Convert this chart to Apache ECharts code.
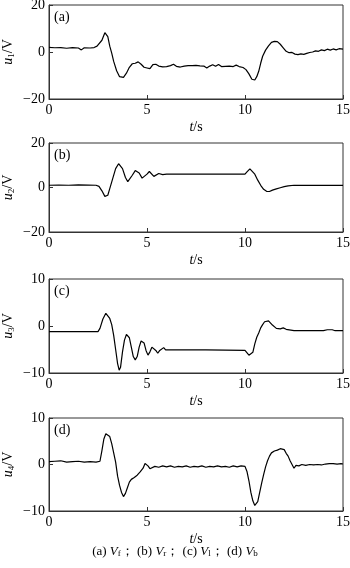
<!DOCTYPE html>
<html><head><meta charset="utf-8">
<script src="https://cdn.jsdelivr.net/npm/echarts@6/dist/echarts.min.js"></script>
<style>html,body{margin:0;padding:0;background:#fff}#c{width:350px;height:568px}</style>
</head><body><div id="c"></div>
<script>
// ---- data ----
var xTicks = [0, 5, 10, 15];
var panelLabels = ['(a)', '(b)', '(c)', '(d)'];
var ySubs = ['1', '2', '3', '4'];
var yRanges = [[-20, 20, 20], [-20, 20, 20], [-10, 10, 10], [-10, 10, 10]];

var tA = [0,0.3,0.6,0.9,1.2,1.5,1.65,1.8,2.1,2.3,2.45,2.55,2.7,2.85,2.92,3.0,3.1,3.2,3.3,3.45,3.6,3.7,3.8,3.95,4.1,4.25,4.4,4.55,4.7,4.85,5.0,5.15,5.3,5.45,5.6,5.8,6.0,6.2,6.35,6.5,6.7,6.9,7.1,7.3,7.5,7.7,7.9,8.05,8.2,8.35,8.5,8.65,8.8,9.0,9.2,9.4,9.55,9.7,9.9,10.05,10.2,10.35,10.5,10.6,10.7,10.8,10.9,11.05,11.2,11.35,11.5,11.65,11.8,11.95,12.1,12.25,12.4,12.55,12.7,12.85,13.0,13.15,13.3,13.45,13.6,13.75,13.9,14.05,14.2,14.35,14.5,14.65,14.8,14.9,15];
var vA = [2.0,1.8,1.9,1.6,1.9,1.7,0.9,1.8,1.7,1.9,2.5,1.8,5,8.2,8.8,6.5,2.5,-0.5,-4,-8,-10.5,-11,-10.8,-9,-6.5,-5,-4.8,-4.2,-5.2,-6.5,-6.8,-7.1,-5.4,-5.2,-6,-6.3,-6.2,-5.8,-5.2,-6.1,-6.4,-6.0,-5.8,-5.8,-5.7,-5.9,-6.0,-6.8,-6.0,-5.4,-6.1,-5.3,-6.2,-6.1,-6.0,-6.2,-5.6,-6.2,-6.6,-7.5,-9.3,-11.6,-11.9,-10.5,-8.2,-4.8,-1.8,0.8,2.6,4.1,4.5,4.4,3.3,1.8,0.3,-0.3,-0.2,-0.9,-1.1,-0.8,-1.0,-0.6,-0.2,0.0,0.5,0.3,0.9,0.6,1.2,0.8,1.3,0.9,1.4,1.7,1.2];

var tB = [0,0.5,1.0,1.5,2.0,2.4,2.55,2.7,2.85,2.92,3.0,3.1,3.25,3.4,3.55,3.62,3.75,3.9,4.02,4.12,4.25,4.4,4.5,4.6,4.75,4.85,5.0,5.12,5.22,5.35,5.45,5.6,5.7,5.8,5.9,6.0,7.0,8.0,9.0,10.0,10.1,10.25,10.35,10.5,10.65,10.8,10.95,11.1,11.25,11.4,11.6,11.8,12.0,12.2,12.5,13.0,13.5,14.0,15];
var vB = [1.0,1.1,1.0,1.2,1.1,1.0,0.5,-1.5,-4.0,-4.6,-3.5,-0.5,4,8.5,10.7,10.9,8.5,4.5,2.6,3.2,5.5,7.6,7.8,6.5,4.2,4.5,6,7.2,6.4,5.0,5.2,6.3,6.0,5.8,6.1,6.0,6.0,6.0,6.0,6.0,7.0,8.4,8.2,6,3.3,1.0,-0.8,-1.7,-1.8,-1.2,-0.6,-0.1,0.4,0.7,1.0,1.0,1.0,1.0,1.0];

var tC = [0,2.5,2.6,2.75,2.9,3.0,3.1,3.2,3.3,3.4,3.5,3.58,3.65,3.75,3.85,3.95,4.02,4.1,4.2,4.3,4.4,4.5,4.6,4.7,4.78,4.85,4.95,5.05,5.15,5.25,5.35,5.45,5.55,5.65,5.75,5.85,5.95,6.2,8.0,10.0,10.1,10.2,10.3,10.4,10.5,10.6,10.7,10.8,10.9,11.0,11.1,11.2,11.3,11.4,11.5,11.6,11.7,11.8,11.95,12.1,12.2,12.5,14.0,14.2,14.3,14.45,14.6,15];
var vC = [-1.2,-1.2,-0.5,1.5,2.7,2.5,1.6,0.3,-2,-5,-8,-9.4,-8.8,-5.5,-3,-1.8,-1.6,-2.5,-4.5,-6.5,-7.2,-6.5,-4.5,-3.2,-3.0,-3.6,-5.2,-6.2,-5.5,-4.5,-4.3,-5.2,-5.8,-5.2,-4.8,-4.6,-5.1,-5.1,-5.1,-5.2,-5.5,-6.2,-6.4,-5.6,-3.8,-2.4,-1.5,-0.4,0.3,0.9,1.2,1.1,0.8,0.2,-0.2,-0.5,-0.3,-0.6,-0.4,-0.7,-1.0,-1.0,-1.0,-0.8,-1.0,-0.8,-1.0,-1.0];

var tD = [0,0.3,0.6,0.9,1.2,1.5,1.8,2.1,2.4,2.6,2.7,2.8,2.9,3.0,3.1,3.2,3.3,3.4,3.5,3.6,3.7,3.8,3.9,4.0,4.1,4.2,4.35,4.5,4.65,4.8,4.9,4.95,5.05,5.15,5.25,5.4,5.6,5.8,6.0,6.2,6.4,6.6,6.8,7.0,7.2,7.4,7.6,7.8,8.0,8.2,8.4,8.6,8.8,9.0,9.2,9.4,9.6,9.8,10.0,10.1,10.2,10.3,10.4,10.5,10.55,10.65,10.75,10.85,10.95,11.05,11.15,11.25,11.35,11.5,11.65,11.8,11.9,12.0,12.1,12.2,12.3,12.4,12.5,12.6,12.75,12.9,13.1,13.3,13.5,13.7,13.9,14.1,14.3,14.5,14.7,14.9,15];
var vD = [0.6,0.7,0.8,0.5,0.6,0.7,0.5,0.6,0.5,0.7,3.0,5.5,6.6,6.7,6.0,4.5,2.5,0.5,-2.5,-4.5,-6.0,-6.9,-6.2,-5.0,-3.8,-3.2,-2.8,-2.3,-1.6,-0.8,0.2,0.4,-0.3,-0.9,-0.6,-0.4,-0.6,-0.3,-0.5,-0.3,-0.6,-0.4,-0.5,-0.3,-0.6,-0.4,-0.5,-0.3,-0.6,-0.4,-0.5,-0.3,-0.5,-0.4,-0.6,-0.3,-0.5,-0.3,-0.4,-1.5,-3.5,-6.0,-7.8,-8.8,-9.0,-8.0,-6.0,-4.0,-2.2,-0.5,0.8,1.8,2.5,2.9,3.1,3.4,3.8,3.2,2.4,1.8,0.8,0.4,-0.8,-0.2,-0.3,0.0,-0.2,0.0,-0.1,0.0,-0.1,0.1,0.2,0.2,0.1,0.2,0.1];

var times = [tA, tB, tC, tD];
var values = [vA, vB, vC, vD];

// ---- layout ----
var grids = [
  {left: 49, right: 7, top: 5, height: 94},
  {left: 49, right: 7, top: 143, height: 89},
  {left: 49, right: 7, top: 279, height: 94},
  {left: 49, right: 7, top: 418, height: 93}
];
var FONT = '"Liberation Serif", "Times New Roman", serif';
var axisColor = '#333';

var option = {
  animation: false,
  backgroundColor: '#fff',
  grid: grids.map(function (g) {
    return Object.assign({show: true, borderColor: axisColor, borderWidth: 1, backgroundColor: 'transparent',
      containLabel: false, outerBoundsMode: 'none'}, g);
  }),
  xAxis: grids.map(function (g, i) {
    return {
      type: 'value', gridIndex: i, min: 0, max: 15, interval: 5,
      name: '{i|t}/s', nameLocation: 'middle', nameGap: 21, nameMoveOverlap: false,
      nameTextStyle: {fontFamily: FONT, fontSize: 14, color: '#000', rich: {i: {fontFamily: FONT, fontStyle: 'italic', fontSize: 14, color: '#000'}}},
      axisLine: {onZero: false, lineStyle: {color: axisColor, width: 1}},
      axisTick: {inside: true, length: 4, lineStyle: {color: axisColor}},
      axisLabel: {fontFamily: FONT, fontSize: 14, color: '#000', margin: 4},
      splitLine: {show: false}
    };
  }),
  yAxis: yRanges.map(function (r, i) {
    return {
      type: 'value', gridIndex: i, min: r[0], max: r[1], interval: r[2],
      name: '{i|u}{s|' + ySubs[i] + '}/V', nameLocation: 'middle', nameGap: 33, nameMoveOverlap: false,
      nameTextStyle: {fontFamily: FONT, fontSize: 14, color: '#000',
        rich: {i: {fontFamily: FONT, fontStyle: 'italic', fontSize: 14, color: '#000'},
               s: {fontFamily: FONT, fontSize: 9, color: '#000', padding: [6, 0, 0, 0]}}},
      axisLine: {onZero: false, lineStyle: {color: axisColor, width: 1}},
      axisTick: {inside: true, length: 4, lineStyle: {color: axisColor}},
      axisLabel: {fontFamily: FONT, fontSize: 14, color: '#000', margin: 4,
        formatter: function (v) { return String(v).replace('-', '\u2212'); }},
      splitLine: {show: false}
    };
  }),
  graphic: panelLabels.map(function (t, i) {
    return {type: 'text', left: 54, top: grids[i].top + 5,
      style: {text: t, fontFamily: FONT, fontSize: 14, fill: '#000'}};
  }).concat([{
    type: 'text', left: 'center', top: 545,
    style: {
      text: '(a) {i|V}{s|f}\uFF1B (b) {i|V}{s|r}\uFF1B (c) {i|V}{s|l}\uFF1B (d) {i|V}{s|b}',
      fontFamily: FONT, fontSize: 13, fill: '#000',
      rich: {i: {fontFamily: FONT, fontStyle: 'italic', fontSize: 13, fill: '#000'},
             s: {fontFamily: FONT, fontSize: 9, fill: '#000', padding: [5, 0, 0, 0]}}
    }
  }]),
  series: values.map(function (v, i) {
    return {
      type: 'line', xAxisIndex: i, yAxisIndex: i, showSymbol: false, symbol: 'none',
      lineStyle: {color: '#000', width: 1.2},
      data: times[i].map(function (t, k) { return [t, v[k]]; })
    };
  })
};

var chart = echarts.init(document.getElementById('c'), null, {renderer: 'canvas'});
chart.setOption(option);
</script></body></html>
